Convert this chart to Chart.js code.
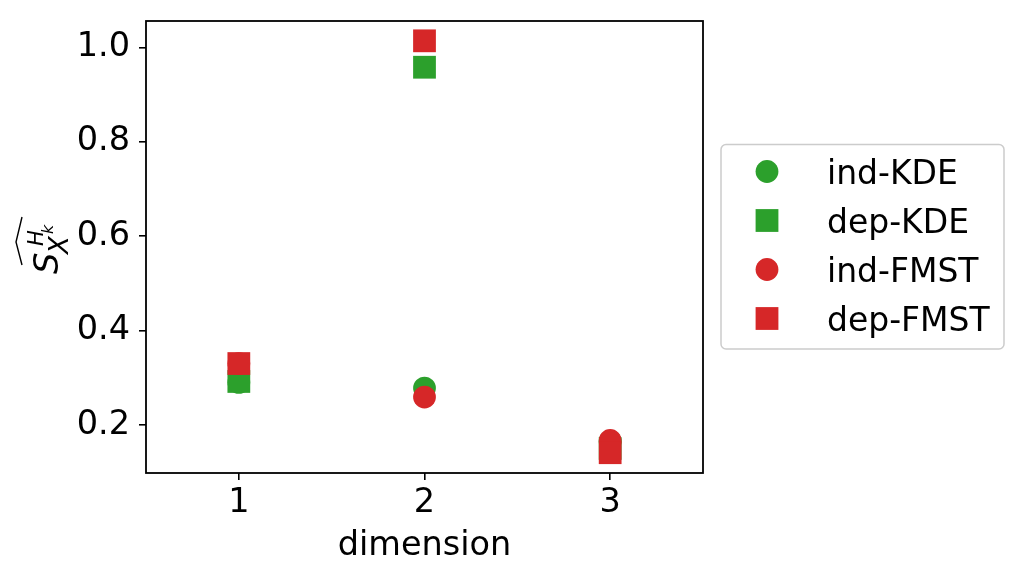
<!DOCTYPE html>
<html><head><meta charset="utf-8">
<script src="https://cdn.jsdelivr.net/npm/chart.js@4"></script>
<style>html,body{margin:0;padding:0;background:#fff}canvas{display:block}</style>
</head><body>
<canvas id="c" width="1019" height="578"></canvas>
<script>
const categories = [1, 2, 3];
const indKDE = [0.290, 0.278, 0.165];
const depKDE = [0.292, 0.958, 0.150];
const indFMST = [0.330, 0.259, 0.167];
const depFMST = [0.330, 1.014, 0.141];
const yTicks = [0.2, 0.4, 0.6, 0.8, 1.0];
const xTicks = [1, 2, 3];
const seriesNames = ['ind-KDE', 'dep-KDE', 'ind-FMST', 'dep-FMST'];
const GREEN = '#2ca02c', RED = '#d62728';
const FONT = "'DejaVu Sans', sans-serif";

function pts(vals) { return categories.map((c, i) => ({x: c, y: vals[i]})); }

const styles = [
  {color: GREEN, shape: 'circle'},
  {color: GREEN, shape: 'rect'},
  {color: RED, shape: 'circle'},
  {color: RED, shape: 'rect'}
];
const seriesVals = [indKDE, depKDE, indFMST, depFMST];

const datasets = seriesVals.map((v, i) => ({
  label: seriesNames[i],
  data: pts(v),
  pointStyle: styles[i].shape,
  pointRadius: styles[i].shape === 'circle' ? 11.4 : 16.1,
  backgroundColor: styles[i].color,
  borderWidth: 0,
  showLine: false,
  order: 4 - i
}));

const framePlugin = {
  id: 'frame',
  afterDraw(chart) {
    const {ctx, chartArea: a} = chart;
    ctx.save();
    ctx.strokeStyle = '#000';
    ctx.lineWidth = 1.8;
    ctx.strokeRect(a.left, a.top, a.right - a.left, a.bottom - a.top);
    ctx.restore();
  }
};

const legendPlugin = {
  id: 'mplLegend',
  afterDraw(chart) {
    const ctx = chart.ctx;
    ctx.save();
    const x = 721, y = 144.5, w = 283, h = 204.5, r = 5;
    ctx.beginPath();
    ctx.moveTo(x + r, y);
    ctx.arcTo(x + w, y, x + w, y + h, r);
    ctx.arcTo(x + w, y + h, x, y + h, r);
    ctx.arcTo(x, y + h, x, y, r);
    ctx.arcTo(x, y, x + w, y, r);
    ctx.closePath();
    ctx.fillStyle = 'rgba(255,255,255,0.8)';
    ctx.fill();
    ctx.strokeStyle = '#cccccc';
    ctx.lineWidth = 1.5;
    ctx.stroke();
    seriesNames.forEach((name, i) => {
      const cy = 171.5 + i * 49;
      ctx.fillStyle = styles[i].color;
      if (styles[i].shape === 'circle') {
        ctx.beginPath(); ctx.arc(767, cy, 11.4, 0, Math.PI * 2); ctx.fill();
      } else {
        ctx.fillRect(767 - 11.4, cy - 11.4, 22.8, 22.8);
      }
      ctx.fillStyle = '#000';
      ctx.font = '33px ' + FONT;
      ctx.textAlign = 'left';
      ctx.textBaseline = 'alphabetic';
      ctx.fillText(name, 827, cy + 12);
    });
    ctx.restore();
  }
};

const yTitlePlugin = {
  id: 'yTitle',
  afterDraw(chart) {
    const ctx = chart.ctx;
    ctx.save();
    ctx.translate(58, 272);
    ctx.rotate(-Math.PI / 2);
    ctx.fillStyle = '#000';
    ctx.textAlign = 'left';
    ctx.textBaseline = 'alphabetic';
    ctx.font = 'italic 34px ' + FONT;
    ctx.fillText('S', -2, 0);
    ctx.font = 'italic 21px ' + FONT;
    ctx.fillText('H', 26, -15);
    ctx.font = 'italic 26px ' + FONT;
    ctx.fillText('X', 18, 10);
    ctx.font = 'italic 16px ' + FONT;
    ctx.fillText('k', 38, -5);
    ctx.strokeStyle = '#000';
    ctx.lineWidth = 1.4;
    ctx.beginPath();
    ctx.moveTo(7, -36);
    ctx.lineTo(30, -42);
    ctx.lineTo(55, -36);
    ctx.stroke();
    ctx.restore();
  }
};

new Chart(document.getElementById('c'), {
  type: 'scatter',
  data: {datasets},
  options: {
    responsive: false,
    animation: false,
    devicePixelRatio: 1,
    layout: {padding: {left: 0, top: 21, right: 316, bottom: 0}},
    plugins: {legend: {display: false}, tooltip: {enabled: false}},
    scales: {
      x: {
        type: 'linear', min: 0.5, max: 3.5,
        afterBuildTicks: s => { s.ticks = xTicks.map(v => ({value: v})); },
        afterFit: s => { s.height = 105; s.paddingLeft = 0; s.paddingRight = 0; },
        ticks: {font: {family: FONT, size: 33.5}, color: '#000', padding: 3, callback: v => String(v)},
        grid: {drawOnChartArea: false, color: '#000', tickColor: '#000', lineWidth: 1.6, tickLength: 7},
        border: {display: false},
        title: {display: true, text: 'dimension', color: '#000', font: {family: FONT, size: 33.5}, padding: {top: 0, bottom: 12}}
      },
      y: {
        type: 'linear', min: 0.098, max: 1.056,
        afterBuildTicks: s => { s.ticks = yTicks.map(v => ({value: v})); },
        afterFit: s => { s.width = 146; s.paddingTop = 0; s.paddingBottom = 0; },
        ticks: {font: {family: FONT, size: 33.5}, color: '#000', padding: 9, callback: v => v.toFixed(1)},
        grid: {drawOnChartArea: false, color: '#000', tickColor: '#000', lineWidth: 1.6, tickLength: 7},
        border: {display: false}
      }
    }
  },
  plugins: [framePlugin, legendPlugin, yTitlePlugin]
});
</script>
</body></html>
